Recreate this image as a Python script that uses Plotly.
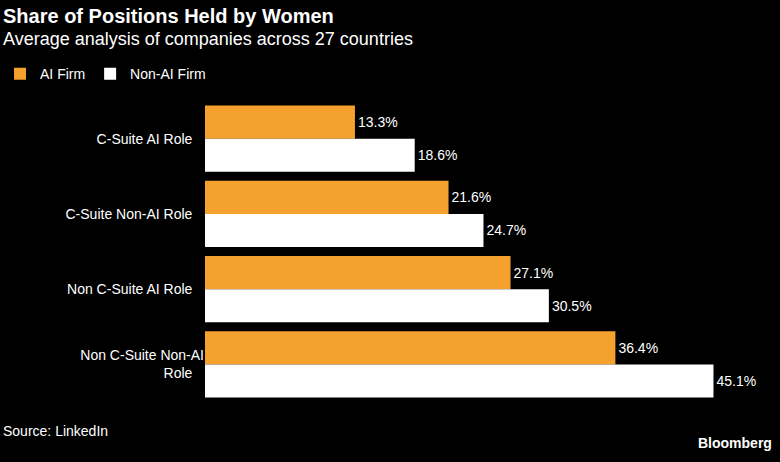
import plotly.graph_objects as go

categories = ["C-Suite AI Role", "C-Suite Non-AI Role", "Non C-Suite AI Role", "Non C-Suite Non-AI<br>Role"]
ai_firm = [13.3, 21.6, 27.1, 36.4]
non_ai_firm = [18.6, 24.7, 30.5, 45.1]

font = "Liberation Sans, Arial, sans-serif"
fig = go.Figure()
fig.add_bar(y=categories, x=ai_firm, orientation="h", name="AI Firm", marker=dict(color="#f5a12d", line_width=0),
            text=[f"{v}%" for v in ai_firm], textposition="outside", cliponaxis=False,
            textfont=dict(color="white", size=14))
fig.add_bar(y=categories, x=non_ai_firm, orientation="h", name="Non-AI Firm", marker=dict(color="white", line_width=0),
            text=[f"{v}%" for v in non_ai_firm], textposition="outside", cliponaxis=False,
            textfont=dict(color="white", size=14))
fig.update_layout(
    width=780, height=462, paper_bgcolor="black", plot_bgcolor="black",
    font=dict(family=font, color="white", size=14),
    margin=dict(l=205, r=0, t=101, b=60),
    barmode="group", bargap=0.12, bargroupgap=0,
    xaxis=dict(range=[0, 51], visible=False),
    yaxis=dict(autorange="reversed", showgrid=False, ticks="", ticksuffix="   ", tickfont=dict(size=14, color="white")),
    legend=dict(orientation="h", x=-0.3565, y=1.089, xanchor="left", yanchor="middle",
                font=dict(size=14, color="white"), bgcolor="rgba(0,0,0,0)"),
)
X0 = -0.3545
fig.add_annotation(text="<b>Share of Positions Held by Women</b>", xref="paper", yref="paper", x=X0, y=1.284,
                   xanchor="left", yanchor="middle", showarrow=False, font=dict(size=20, color="white"))
fig.add_annotation(text="Average analysis of companies across 27 countries", xref="paper", yref="paper", x=X0, y=1.205,
                   xanchor="left", yanchor="middle", showarrow=False, font=dict(size=18, color="white"))
fig.add_annotation(text="Source: LinkedIn", xref="paper", yref="paper", x=X0, y=-0.096,
                   xanchor="left", yanchor="middle", showarrow=False, font=dict(size=14, color="white"))
fig.add_annotation(text="<b>Bloomberg</b>", xref="paper", yref="paper", x=0.99, y=-0.135,
                   xanchor="right", yanchor="middle", showarrow=False, font=dict(size=14, color="white"))
fig.write_html("out.html", config={"displayModeBar": False})

with open("out.html", encoding="utf-8") as f:
    html = f.read()
html = html.replace("<head>", "<head><style>html,body{margin:0;padding:0;background:black;}</style>", 1)
with open("out.html", "w", encoding="utf-8") as f:
    f.write(html)
